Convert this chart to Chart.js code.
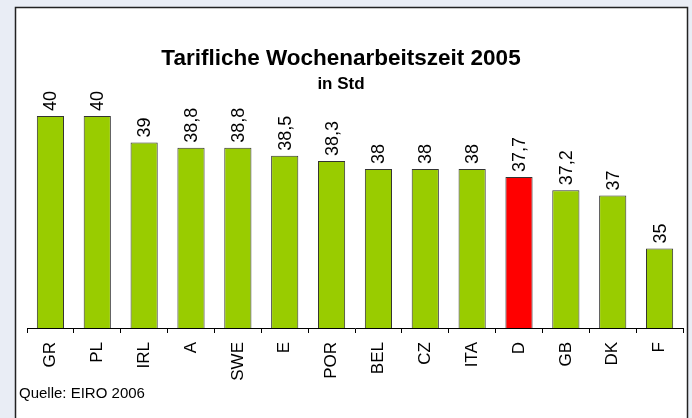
<!DOCTYPE html>
<html>
<head>
<meta charset="utf-8">
<script src="https://cdn.jsdelivr.net/npm/chart.js@4"></script>
<style>
html,body{margin:0;padding:0;background:#e9edf5;overflow:hidden;}
canvas{display:block;}
</style>
</head>
<body>
<canvas id="c" width="692" height="418"></canvas>
<script>
const categories = ["GR","PL","IRL","A","SWE","E","POR","BEL","CZ","ITA","D","GB","DK","F"];
const hours = [40,40,39,38.8,38.8,38.5,38.3,38,38,38,37.7,37.2,37,35];
const highlightCategory = "D";
const titleText = "Tarifliche Wochenarbeitszeit 2005";
const subtitleText = "in Std";
const sourceText = "Quelle: EIRO 2006";

const FONT = "Arial, 'Liberation Sans', sans-serif";

const panelPlugin = {
  id: 'panel',
  beforeDraw(chart) {
    const ctx = chart.ctx;
    ctx.save();
    ctx.fillStyle = '#e9edf5';
    ctx.fillRect(0, 0, chart.width, chart.height);
    ctx.fillStyle = '#ffffff';
    ctx.fillRect(15, 7, 673, 420);
    ctx.strokeStyle = '#222';
    ctx.lineWidth = 1.5;
    ctx.strokeRect(15.5, 7.5, 672, 420);
    ctx.restore();
  },
  afterDraw(chart) {
    const ctx = chart.ctx;
    ctx.save();
    ctx.fillStyle = '#000';
    ctx.textAlign = 'center';
    ctx.textBaseline = 'alphabetic';
    ctx.font = 'bold 22.5px ' + FONT;
    ctx.fillText(titleText, 341, 65);
    ctx.font = 'bold 17px ' + FONT;
    ctx.fillText(subtitleText, 341, 89);
    ctx.textAlign = 'left';
    ctx.font = '15px ' + FONT;
    ctx.fillText(sourceText, 19, 398);
    ctx.restore();
  }
};

const valueLabels = {
  id: 'valueLabels',
  afterDatasetsDraw(chart) {
    const ctx = chart.ctx;
    const meta = chart.getDatasetMeta(0);
    ctx.save();
    ctx.fillStyle = '#000';
    ctx.font = '18px ' + FONT;
    ctx.textAlign = 'left';
    ctx.textBaseline = 'middle';
    meta.data.forEach((bar, i) => {
      const txt = String(hours[i]).replace('.', ',');
      ctx.save();
      ctx.translate(bar.x + 1, bar.y - 5);
      ctx.rotate(-Math.PI / 2);
      ctx.fillText(txt, 0, 0);
      ctx.restore();
    });
    ctx.restore();
  }
};

new Chart(document.getElementById('c'), {
  type: 'bar',
  data: {
    labels: categories,
    datasets: [{
      data: hours,
      backgroundColor: categories.map(c => c === highlightCategory ? '#ff0000' : '#99cc00'),
      borderColor: '#333',
      borderWidth: 1,
      borderSkipped: 'bottom',
      categoryPercentage: 1,
      barPercentage: 0.58
    }]
  },
  options: {
    responsive: false,
    animation: false,
    layout: { padding: { left: 27, right: 9, top: 116, bottom: 0 } },
    plugins: { legend: { display: false }, title: { display: false }, tooltip: { enabled: false } },
    scales: {
      y: { display: false, min: 32, max: 40 },
      x: {
        afterFit(scale) { scale.height = 90; },
        border: { display: true, color: '#000', width: 1 },
        grid: { drawOnChartArea: false, drawTicks: true, tickLength: 5, color: '#000', offset: true },
        ticks: {
          color: '#000',
          font: { family: FONT, size: 17 },
          minRotation: 90, maxRotation: 90,
          autoSkip: false,
          padding: 9
        }
      }
    }
  },
  plugins: [panelPlugin, valueLabels]
});
</script>
</body>
</html>
